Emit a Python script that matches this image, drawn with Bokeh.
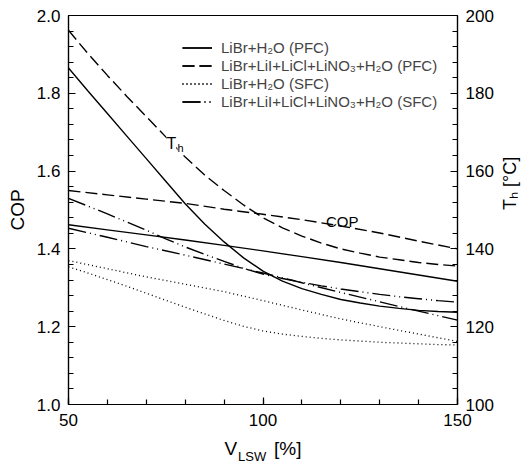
import math
from bokeh.plotting import figure
from bokeh.models import (Range1d, LinearAxis, SingleIntervalTicker, FixedTicker,
                          PrintfTickFormatter, Legend, LegendItem, Label)
from bokeh.embed import file_html
from bokeh.resources import INLINE

# ---------------- data ----------------
v_lsw = [50, 60, 70, 80, 90, 100, 110, 120, 130, 140, 150]
v_lsw_th = [50, 55, 60, 65, 70, 75, 80, 85, 90, 95, 100,
            105, 110, 115, 120, 125, 130, 135, 140, 145, 150]

# COP (left axis)
cop_libr_pfc = [1.462, 1.449, 1.436, 1.423, 1.409, 1.395, 1.380, 1.365, 1.349, 1.333, 1.317]
cop_mix_pfc = [1.550, 1.539, 1.528, 1.517, 1.502, 1.489, 1.475, 1.459, 1.441, 1.420, 1.400]
cop_libr_sfc = [1.370, 1.349, 1.328, 1.309, 1.290, 1.267, 1.243, 1.220, 1.200, 1.181, 1.162]
cop_mix_sfc = [1.453, 1.430, 1.406, 1.384, 1.361, 1.338, 1.313, 1.288, 1.264, 1.240, 1.217]

# Th [deg C] (right axis)
th_libr_pfc = [186.5, 180.6, 174.8, 169.0, 163.2, 157.4, 151.6, 146.4, 141.8, 137.7, 134.3,
               131.7, 129.8, 128.3, 127.0, 126.1, 125.3, 124.7, 124.2, 123.9, 123.7]
th_mix_pfc = [196.2, 190.2, 184.6, 179.2, 174.0, 168.8, 163.6, 159.0, 155.0, 151.3, 148.0,
              145.4, 143.3, 141.5, 140.0, 138.9, 137.9, 137.2, 136.5, 136.0, 135.6]
th_libr_sfc = [135.4, 133.8, 132.1, 130.4, 128.6, 126.8, 125.0, 123.3, 121.6, 120.1, 118.9,
               118.1, 117.5, 117.0, 116.6, 116.3, 116.0, 115.8, 115.6, 115.4, 115.3]
th_mix_sfc = [153.0, 151.0, 149.0, 146.9, 144.8, 142.6, 140.5, 138.6, 136.8, 135.0, 133.5,
              132.4, 131.4, 130.5, 129.7, 129.0, 128.3, 127.7, 127.2, 126.7, 126.3]

series_labels = ["LiBr+H\u2082O (PFC)",
                 "LiBr+LiI+LiCl+LiNO\u2083+H\u2082O (PFC)",
                 "LiBr+H\u2082O (SFC)",
                 "LiBr+LiI+LiCl+LiNO\u2083+H\u2082O (SFC)"]

FONT = "Liberation Sans"
NB = "\u00a0"

p = figure(width=532, height=469, x_range=Range1d(50, 150), y_range=Range1d(1.0, 2.0),
           output_backend="svg", toolbar_location=None)
p.title.visible = False
p.extra_y_ranges = {"th": Range1d(100, 200)}
p.min_border_left = 68
p.min_border_right = 73
p.min_border_top = 15
p.min_border_bottom = 65
p.xgrid.visible = False
p.ygrid.visible = False
p.outline_line_color = "black"
p.outline_line_width = 1.2
p.background_fill_color = "white"

right_axis = LinearAxis(y_range_name="th")
p.add_layout(right_axis, "right")

p.xaxis[0].ticker = SingleIntervalTicker(interval=50, num_minor_ticks=5)
p.yaxis[0].ticker = SingleIntervalTicker(interval=0.2, num_minor_ticks=5)
p.yaxis[0].formatter = PrintfTickFormatter(format="%.1f")
right_axis.ticker = SingleIntervalTicker(interval=20, num_minor_ticks=5)

for ax in [p.xaxis[0], p.yaxis[0], right_axis]:
    ax.axis_line_color = "black"
    ax.axis_line_width = 1.2
    ax.major_tick_in = 7
    ax.major_tick_out = 0
    ax.minor_tick_in = 5
    ax.minor_tick_out = 0
    ax.major_tick_line_color = "black"
    ax.minor_tick_line_color = "black"
    ax.major_tick_line_width = 1.2
    ax.minor_tick_line_width = 1.2
    ax.major_label_text_font = FONT
    ax.major_label_text_font_size = "17px"
    ax.major_label_text_color = "black"
    ax.axis_label_text_font = FONT
    ax.axis_label_text_font_style = "normal"
    ax.axis_label_text_color = "black"

p.xaxis[0].major_label_standoff = 9
p.yaxis[0].major_label_standoff = 8
right_axis.major_label_standoff = 8

# axis titles
p.yaxis[0].axis_label = "COP"
p.yaxis[0].axis_label_text_font_size = "19px"
p.yaxis[0].axis_label_standoff = 6

right_axis.axis_label = "T\u2095 [\u00b0C]"
right_axis.axis_label_text_font_size = "18px"
right_axis.axis_label_standoff = 13
right_axis.axis_label_orientation = math.pi / 2

p.xaxis[0].axis_label = "V" + NB * 7 + "[%]"
p.xaxis[0].axis_label_text_font_size = "19px"
p.xaxis[0].axis_label_standoff = 9

# subscript "LSW" of the x-axis title, carried by a tick-less axis below
sub_axis = LinearAxis(ticker=FixedTicker(ticks=[]), axis_label="LSW" + NB * 6,
                      axis_line_color=None, major_tick_line_color=None,
                      minor_tick_line_color=None, major_label_text_font_size="0px",
                      major_label_standoff=0, major_tick_in=0, major_tick_out=0,
                      minor_tick_in=0, minor_tick_out=0,
                      axis_label_standoff=-13, axis_label_text_font=FONT,
                      axis_label_text_font_size="13px", axis_label_text_font_style="normal",
                      axis_label_text_color="black")
p.add_layout(sub_axis, "below")

LW = 1.4
styles = [dict(line_dash="solid", line_width=LW),
          dict(line_dash="12 5", line_width=LW),
          dict(line_dash="1 3", line_width=1.3),
          dict(line_dash="18 4 1 4 1 4", line_width=LW)]
cop_sets = [cop_libr_pfc, cop_mix_pfc, cop_libr_sfc, cop_mix_sfc]
th_sets = [th_libr_pfc, th_mix_pfc, th_libr_sfc, th_mix_sfc]

items = []
for lab_txt, cop, th, st in zip(series_labels, cop_sets, th_sets, styles):
    r1 = p.line(v_lsw, cop, line_color="black", **st)
    r2 = p.line(v_lsw_th, th, line_color="black", y_range_name="th", **st)
    items.append(LegendItem(label=lab_txt, renderers=[r1, r2]))

legend = Legend(items=items, location=(114, 294), padding=0, margin=0,
                border_line_color=None, background_fill_alpha=0,
                glyph_width=30, glyph_height=17, label_height=17, spacing=1,
                label_standoff=9, label_text_font=FONT, label_text_font_size="15px")
p.add_layout(legend, "center")


def lab(x, y, text, size, xo=0, yo=0, bg=None):
    p.add_layout(Label(x=x, y=y, text=text, x_offset=xo, y_offset=yo,
                       text_font=FONT, text_font_size=size, text_color="black",
                       text_align="left", text_baseline="alphabetic",
                       background_fill_color=bg))


# in-plot annotations
lab(75.2, 1.670, "T", "16px", bg="white")
lab(75.2, 1.670, "h", "11px", xo=11, yo=-4, bg="white")
lab(116.2, 1.471, "COP", "15px")

open("out.html", "w").write(file_html(p, INLINE))
